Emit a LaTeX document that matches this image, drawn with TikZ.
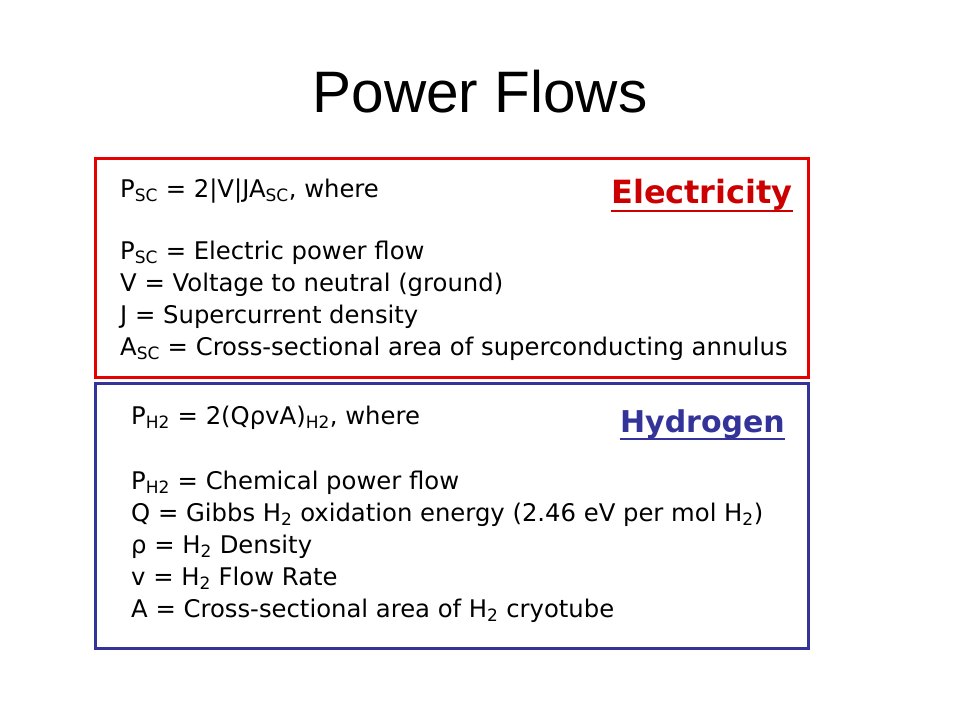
\documentclass[tikz,border=0pt]{standalone}
\usepackage{fontspec}
\setmainfont{DejaVu Sans}
\newfontfamily\titlefont{Liberation Sans}
\definecolor{elecred}{RGB}{230,0,0}
\definecolor{elechead}{RGB}{204,0,0}
\definecolor{hydblue}{RGB}{51,51,153}
\newcommand{\sbs}[1]{\textsubscript{#1}}
\tikzset{
  line/.style={anchor=base west,inner sep=0pt,font=\fontsize{24.3}{28}\selectfont},
  head/.style={anchor=base east,inner sep=0pt,font=\fontsize{30}{36}\selectfont\bfseries},
  uline/.style={line width=2.5pt},
  frame/.style={line width=3pt}
}
\begin{document}
\begin{tikzpicture}[x=1pt,y=-1pt]
\useasboundingbox (0,0) rectangle (960,720);
\fill[white] (0,0) rectangle (960,720);

% title
\node[anchor=base,inner sep=0pt,font=\titlefont\fontsize{58.5}{66}\selectfont] (title) at (480,112) {Power Flows};

% boxes
\draw[frame,elecred] (95,158) rectangle (808,377);
\draw[frame,hydblue] (95,383) rectangle (808,648);

% electricity
\node[head,text=elechead,font=\fontsize{32}{38}\selectfont\bfseries] (elec) at (793,203) {Electricity};
\draw[uline,elechead] ([yshift=-8pt]elec.base west) -- ([yshift=-8pt]elec.base east);
\node[line] (psc) at (120,197) {P\sbs{SC} = 2|V|JA\sbs{SC}, where};
\node[line] (pscdef) at (120,259) {P\sbs{SC} = Electric power flow};
\node[line] (vdef) at (120,291) {V = Voltage to neutral (ground)};
\node[line] (jdef) at (120,323) {J = Supercurrent density};
\node[line] (ascdef) at (120,355) {A\sbs{SC} = Cross-sectional area of superconducting annulus};

% hydrogen
\node[head,text=hydblue] (hyd) at (785,432) {Hydrogen};
\draw[uline,hydblue] ([yshift=-7pt]hyd.base west) -- ([yshift=-7pt]hyd.base east);
\node[line] (ph) at (131,424) {P\sbs{H2} = 2(QρvA)\sbs{H2}, where};
\node[line] (phdef) at (131,489) {P\sbs{H2} = Chemical power flow};
\node[line] (qdef) at (131,521) {Q = Gibbs H\sbs{2} oxidation energy (2.46 eV per mol H\sbs{2})};
\node[line] (rhodef) at (131,553) {ρ = H\sbs{2} Density};
\node[line] (vhdef) at (131,585) {v = H\sbs{2} Flow Rate};
\node[line] (adef) at (131,617) {A = Cross-sectional area of H\sbs{2} cryotube};

\end{tikzpicture}
\end{document}
